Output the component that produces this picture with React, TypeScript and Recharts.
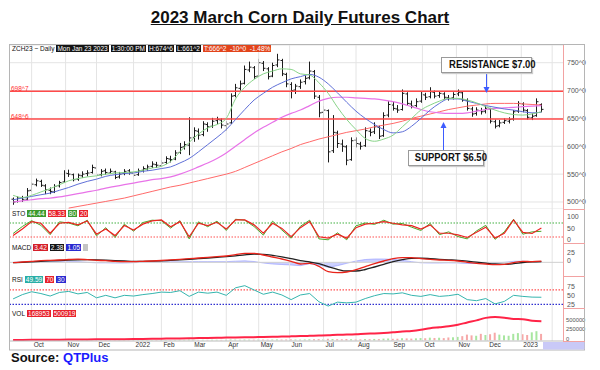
import React from "react";
import { ComposedChart, Bar, Line, Area, XAxis, YAxis, CartesianGrid, ReferenceLine, Cell } from "recharts";

// OHLC bars, one per 3 trading days (day index = 3k + 2, day 0 = mid Sep 2021)
const opens = [
  505, 501, 508, 505, 521, 531, 537, 529, 521, 518,
  529, 536, 551, 549, 541, 547, 551, 553, 561, 549,
  556, 552, 554, 545, 551, 556, 552, 549, 557, 559,
  564, 567, 565, 571, 577, 577, 589, 599, 602, 616,
  627, 621, 639, 636, 646, 647, 637, 642, 691, 704,
  713, 737, 741, 726, 749, 739, 726, 746, 754, 729,
  711, 701, 707, 716, 723, 734, 688, 661, 664, 592,
  624, 604, 599, 576, 611, 604, 601, 627, 626, 634,
  619, 656, 674, 667, 666, 694, 676, 673, 681, 692,
  689, 697, 691, 694, 687, 687, 694, 696, 682, 667,
  659, 664, 663, 667, 644, 637, 643, 645, 649, 663,
  676, 664, 651, 655, 675,
];
const highs = [
  508, 510, 511, 525, 535, 542, 540, 532, 526, 532,
  538, 557, 558, 551, 551, 555, 557, 567, 563, 559,
  560, 560, 556, 554, 559, 559, 555, 560, 564, 567,
  573, 572, 575, 582, 583, 593, 606, 609, 652, 634,
  632, 645, 643, 651, 653, 650, 645, 695, 712, 718,
  745, 752, 744, 757, 753, 742, 750, 766, 757, 732,
  715, 712, 720, 727, 752, 737, 692, 672, 666, 656,
  628, 612, 602, 616, 616, 608, 634, 632, 643, 637,
  661, 681, 680, 674, 702, 697, 682, 686, 698, 696,
  706, 700, 699, 697, 692, 697, 702, 699, 686, 671,
  670, 669, 673, 669, 648, 647, 650, 652, 665, 681,
  679, 667, 659, 686, 677,
];
const lows = [
  495, 499, 500, 503, 518, 528, 527, 514, 514, 516,
  526, 534, 545, 537, 538, 543, 546, 551, 545, 546,
  549, 550, 541, 542, 548, 549, 545, 547, 553, 556,
  561, 561, 563, 568, 571, 575, 586, 594, 584, 608,
  612, 618, 626, 633, 640, 632, 628, 640, 688, 700,
  711, 733, 721, 724, 735, 720, 724, 742, 726, 706,
  686, 694, 703, 711, 720, 685, 652, 650, 571, 588,
  597, 590, 566, 574, 598, 594, 599, 618, 622, 613,
  617, 652, 664, 660, 664, 673, 668, 670, 678, 683,
  686, 686, 687, 684, 682, 684, 690, 680, 664, 653,
  655, 657, 659, 641, 632, 634, 640, 641, 646, 660,
  661, 648, 647, 653, 661,
];
const closes = [
  500, 507, 504, 520, 532, 538, 530, 522, 519, 528,
  535, 552, 550, 540, 548, 550, 552, 562, 548, 555,
  553, 555, 544, 550, 555, 553, 548, 556, 560, 563,
  568, 566, 570, 578, 576, 588, 598, 603, 615, 628,
  620, 640, 635, 645, 648, 638, 640, 690, 705, 712,
  738, 742, 725, 750, 740, 725, 745, 755, 730, 712,
  700, 708, 715, 722, 735, 690, 660, 665, 590, 625,
  605, 600, 575, 610, 605, 600, 628, 625, 635, 618,
  655, 675, 668, 665, 695, 677, 672, 680, 693, 688,
  698, 690, 695, 688, 686, 693, 697, 683, 668, 658,
  665, 662, 668, 645, 636, 642, 646, 648, 662, 677,
  665, 652, 654, 680, 666.25,
];
const volumes = [
  3000, 2500, 4000, 3500, 5000, 4200, 3800, 3000, 4500, 5200, 4800,
  6000, 5500, 4000, 5000, 4500, 6200, 7000, 5500, 4800, 6000, 5200,
  5800, 6500, 5000, 6800, 7200, 6000, 7500, 8000, 7000, 8200, 7600,
  9000, 8500, 10000, 12000, 11000, 20000, 15000, 12000, 14000, 13000, 15000,
  14000, 12000, 15000, 22000, 18000, 16000, 20000, 18000, 17000, 22000, 19000,
  18000, 21000, 24000, 20000, 22000, 26000, 21000, 20000, 23000, 28000, 30000,
  32000, 28000, 40000, 35000, 30000, 28000, 34000, 30000, 27000, 25000, 33000,
  30000, 36000, 32000, 45000, 48000, 40000, 42000, 55000, 50000, 45000, 52000,
  60000, 55000, 70000, 62000, 68000, 58000, 75000, 80000, 90000, 110000, 150000,
  130000, 120000, 170000, 140000, 160000, 200000, 150000, 130000, 120000, 170000, 190000,
  160000, 140000, 210000, 240000, 168953,
];

// indicators, one sample per 6 trading days (day index = 6j + 2)
const maGreen = [
  512, 508, 512, 518, 524, 531, 538, 542, 545, 547,
  550, 552, 553, 554, 557, 561, 564, 573, 590, 607,
  622, 633, 639, 650, 685, 706, 720, 730, 735, 739,
  738, 730, 728, 714, 695, 670, 648, 630, 614, 609,
  613, 620, 635, 650, 665, 674, 681, 686, 686, 683,
  678, 671, 665, 660, 657, 656, 658, 662,
];
const maBlue = [
  504, 507, 510, 513, 516, 521, 526, 532, 537, 541,
  546, 549, 551, 552, 555, 557, 560, 563, 570, 578,
  590, 603, 616, 630, 648, 666, 683, 695, 706, 714,
  721, 725, 729, 724, 712, 696, 679, 663, 650, 639,
  630, 624, 626, 636, 650, 665, 677, 685, 685, 681,
  677, 673, 670, 667, 665, 662, 660, 661,
];
const maMagenta = [
  500, 502, 504, 506, 507, 509, 512, 515, 518, 521,
  525, 528, 531, 534, 537, 540, 542, 545, 550, 556,
  563, 570, 578, 588, 600, 612, 624, 634, 643, 652,
  659, 665, 673, 681, 686, 688, 688, 687, 686, 685,
  683, 680, 676, 671, 666, 662, 660, 659, 659, 660,
  663, 666, 668, 669, 670, 671, 672, 673,
];
const maRed = [
  null, null, null, null, null, null, 489, 492, 495, 498,
  501, 504, 507, 511, 515, 519, 523, 527, 530, 534,
  538, 542, 546, 550, 555, 562, 569, 576, 583, 590,
  596, 603, 608, 613, 617, 621, 625, 628, 631, 635,
  638, 641, 645, 650, 654, 658, 662, 666, 669, 672,
  674, 676, 677, 677, 677, 676, 675, 674,
];
const stoK = [
  35, 65, 90, 70, 30, 85, 80, 68, 92, 25,
  60, 18, 75, 45, 82, 92, 90, 58, 90, 12,
  85, 64, 88, 48, 96, 92, 65, 28, 88, 50,
  15, 66, 92, 12, 8, 38, 8, 68, 80, 74,
  92, 75, 78, 62, 48, 78, 30, 42, 22, 12,
  46, 70, 10, 42, 96, 32, 42, 44.44,
];
const stoD = [
  26, 54, 86, 79, 36, 79, 83, 72, 89, 32,
  54, 26, 69, 50, 75, 89, 93, 64, 86, 21,
  79, 69, 83, 54, 93, 93, 72, 36, 79, 57,
  21, 60, 86, 21, 15, 32, 15, 60, 75, 79,
  86, 79, 72, 69, 54, 72, 36, 36, 29, 18,
  40, 62, 16, 36, 93, 40, 35, 58.33,
];
const macdLine = [
  -1, 1, 3, 5, 6, 7, 8.5, 9.5, 8, 6,
  5, 3, 2, 2, 3, 4, 5.5, 7.5, 9, 11,
  13, 15, 17, 19, 23, 27, 27, 22, 16, 10,
  3, -5, -3, -12, -28, -31, -29, -22, -13, -4,
  4, 11, 14, 14, 11, 9, 7, 6, 4, 0,
  -3, -5, -7, -6, -1, 3, 2, 3.42,
];
const macdSignal = [
  -1, 0, 1.5, 3, 4.5, 5.5, 6.5, 7.5, 8, 7.5,
  6.5, 5, 4, 3, 3, 3.5, 4.5, 6, 7.5, 9,
  11, 13, 15, 17, 19.5, 22.5, 24.5, 24, 21, 16.5,
  11, 5, 1, -4, -13, -21, -26, -26, -21.5, -14,
  -6, 2, 8, 12, 12.5, 11, 9, 7.5, 6, 3.5,
  0.5, -2.5, -5, -6, -4, -0.5, 1.5, 2.38,
];
const macdHist = [
  0, 1, 1.5, 2, 1.5, 1.5, 2, 2, 0, -1.5,
  -1.5, -2, -2, -1, 0, 0.5, 1, 1.5, 1.5, 2,
  2, 2, 2, 2, 3.5, 4.5, 2.5, -2, -5, -6.5,
  -8, -10, -4, -8, -15, -10, -3, 4, 8.5, 10,
  10, 9, 6, 2, -1.5, -2, -2, -1.5, -2, -3.5,
  -3.5, -2.5, -2, 0, 3, 3.5, 0.5, 1.05,
];
const rsi = [
  45, 57, 65, 60, 53, 63, 66, 59, 63, 48,
  55, 48, 55, 53, 57, 60, 64, 63, 68, 52,
  64, 61, 64, 55, 76, 82, 70, 58, 64, 56,
  43, 56, 60, 37, 25, 36, 34, 36, 46, 54,
  60, 59, 62, 55, 52, 57, 52, 54, 58, 43,
  40, 46, 31, 38, 55, 52, 50, 49.59,
];
const openInterest = [
  10000, 11000, 12000, 13000, 15000, 17000, 19000, 21000, 23000, 25000,
  27000, 29000, 31000, 34000, 37000, 40000, 43000, 47000, 51000, 55000,
  59000, 63000, 67000, 71000, 75000, 79000, 83000, 88000, 93000, 98000,
  104000, 113000, 118000, 124000, 131000, 145000, 150000, 158000, 172000, 180000,
  192000, 210000, 232000, 245000, 275000, 320000, 345000, 370000, 410000, 470000,
  525000, 590000, 610000, 595000, 560000, 555000, 515000, 500919,
];

const monthTicks = [14, 36, 56, 80, 98, 118, 140, 161, 181, 203, 224, 247, 267, 289, 309, 331, 351];
const monthLabels = ["Oct", "Nov", "Dec", "2022", "Feb", "Mar", "Apr", "May", "Jun", "Jul", "Aug", "Sep", "Oct", "Nov", "Dec", "2023", "Feb"];
const priceTicks = [500, 550, 600, 650, 700, 750];
const resistance = 698.875;
const support = 648.75;

const bars = closes.map((c, k) => ({
  d: 3 * k + 2, o: opens[k], h: highs[k], l: lows[k], c, hl: [lows[k], highs[k]], v: volumes[k],
}));
const ind = maGreen.map((g, j) => ({
  d: 6 * j + 2, green: g, blue: maBlue[j], magenta: maMagenta[j], red: maRed[j],
  k: stoK[j], dd: stoD[j], macd: macdLine[j], sig: macdSignal[j], hist: macdHist[j],
  rsi: rsi[j], oi: openInterest[j],
}));

const FONT = '"Liberation Sans", Arial, sans-serif';
const X_DOMAIN: [number, number] = [0, 358];
const M = { top: 0, right: 15, left: 10, bottom: 0 };
const GRID = "#e4e4e4";

const OhlcShape = (props: any) => {
  const { x, y, width, height, payload } = props;
  if (x == null || payload == null) return null;
  const cx = Math.round(x + width / 2) + 0.5;
  const top = Math.min(y, y + height);
  const span = Math.abs(height);
  const range = payload.h - payload.l || 1;
  const oy = top + ((payload.h - payload.o) / range) * span;
  const cy = top + ((payload.h - payload.c) / range) * span;
  return (
    <g stroke="#1c1c1c" strokeWidth={1}>
      <line x1={cx} x2={cx} y1={top} y2={top + span} />
      <line x1={cx - 2} x2={cx} y1={oy} y2={oy} />
      <line x1={cx} x2={cx + 2} y1={cy} y2={cy} />
    </g>
  );
};

const makeTick = (fmt: (v: number) => string, dy: number, size: number) => (props: any) => {
  const { x, y, payload } = props;
  return (
    <text x={x} y={y} dy={dy} fontSize={size} fill="#555" fontFamily={FONT} textAnchor="start">
      {fmt(payload.value)}
    </text>
  );
};

const MonthTick = (props: any) => {
  const { x, y, payload } = props;
  const i = monthTicks.indexOf(payload.value);
  return (
    <text x={x + 2} y={y + 6} fontSize={6.5} fill="#333" fontFamily={FONT} textAnchor="start">
      {monthLabels[i]}
    </text>
  );
};

const monthLines = () =>
  monthTicks.map((d) => <ReferenceLine key={"m" + d} x={d} stroke={GRID} ifOverflow="visible" />);

const tag = (bg: string): React.CSSProperties => ({
  background: bg, color: "#fff", padding: "0 1px", marginLeft: 2, height: 7, lineHeight: "7px", whiteSpace: "pre",
});

function TagRow({ top, name, tags }: { top: number; name: string; tags: [string, string][] }) {
  return (
    <div style={{ position: "absolute", left: 12, top, display: "flex", fontSize: 6.5, fontFamily: FONT, lineHeight: "7px" }}>
      <span style={{ color: "#111", whiteSpace: "pre" }}>{name}</span>
      {tags.map(([t, bg], i) => (
        <span key={i} style={{ ...tag(bg), minWidth: t ? undefined : 3 }}>{t}</span>
      ))}
    </div>
  );
}

const boxStyle: React.CSSProperties = {
  position: "absolute", background: "#fff", border: "1px solid #9a9a9a", boxShadow: "1px 1px 1px #ccc",
  fontFamily: FONT, fontWeight: 700, fontSize: 11, lineHeight: "13px", textAlign: "center", whiteSpace: "nowrap", color: "#111",
};

const rightAxis = (domain: [number, number], ticks: number[], fmt: (v: number) => string, dy: number, size = 7, margin = 4) => (
  <YAxis orientation="right" width={22} domain={domain} ticks={ticks} interval={0} allowDataOverflow
    axisLine={false} tickLine={false} tickSize={0} tickMargin={margin} tick={makeTick(fmt, dy, size)} />
);

export default function App() {
  return (
    <div style={{ position: "absolute", left: 0, top: 0, width: 600, height: 370, background: "#fff", fontFamily: FONT }}>
      <div style={{ position: "absolute", top: 8, left: 0, width: 600, textAlign: "center", fontSize: 17, fontWeight: 700, textDecoration: "underline", color: "#111" }}>
        2023 March Corn Daily Futures Chart
      </div>

      {/* price */}
      <div style={{ position: "absolute", left: 0, top: 45 }}>
        <ComposedChart width={600} height={164} data={bars} margin={M}>
          <CartesianGrid vertical={false} stroke={GRID} />
          {monthLines()}
          <XAxis type="number" dataKey="d" domain={X_DOMAIN} hide allowDataOverflow />
          {rightAxis([487.4, 781.8], priceTicks, (v) => `${v}^0`, 2.5)}
          <ReferenceLine y={resistance} stroke="#ff4a4a" strokeWidth={1.5} />
          <ReferenceLine y={support} stroke="#ff4a4a" strokeWidth={1.5} />
          <Line data={ind} dataKey="red" stroke="#ff6a6a" strokeWidth={1} dot={false} type="monotone" isAnimationActive={false} />
          <Line data={ind} dataKey="magenta" stroke="#e873e8" strokeWidth={1.2} dot={false} type="monotone" isAnimationActive={false} />
          <Line data={ind} dataKey="blue" stroke="#6070d8" strokeWidth={1} dot={false} type="monotone" isAnimationActive={false} />
          <Line data={ind} dataKey="green" stroke="#88d488" strokeWidth={1} dot={false} type="monotone" isAnimationActive={false} />
          <Bar dataKey="hl" barSize={2} shape={OhlcShape} isAnimationActive={false} />
        </ComposedChart>
      </div>

      {/* stochastics */}
      <div style={{ position: "absolute", left: 0, top: 209 }}>
        <ComposedChart width={600} height={34} data={ind} margin={M}>
          {monthLines()}
          <XAxis type="number" dataKey="d" domain={X_DOMAIN} hide allowDataOverflow />
          {rightAxis([-5.7, 140], [0, 50, 100], (v) => `${v}`, 0.5)}
          <ReferenceLine y={80} stroke="#40b040" strokeDasharray="1.5 1.5" strokeWidth={1.2} />
          <ReferenceLine y={20} stroke="#ff5050" strokeDasharray="1.5 1.5" strokeWidth={1.2} />
          <Line dataKey="k" stroke="#4aaa2a" strokeWidth={1} dot={false} type="linear" isAnimationActive={false} />
          <Line dataKey="dd" stroke="#ee2222" strokeWidth={1.2} dot={false} type="linear" isAnimationActive={false} />
        </ComposedChart>
      </div>

      {/* MACD */}
      <div style={{ position: "absolute", left: 0, top: 243 }}>
        <ComposedChart width={600} height={33} data={ind} margin={M}>
          {monthLines()}
          <XAxis type="number" dataKey="d" domain={X_DOMAIN} hide allowDataOverflow />
          {rightAxis([-41, 58], [0, 25], (v) => `${v}`, 1)}
          <ReferenceLine y={0} stroke="#cfcfcf" />
          <Area dataKey="hist" baseValue={0} stroke="#8f96ff" strokeWidth={0.6} fill="#aab0ff" fillOpacity={0.6} type="linear" isAnimationActive={false} />
          <Line dataKey="sig" stroke="#222" strokeWidth={1.3} dot={false} type="monotone" isAnimationActive={false} />
          <Line dataKey="macd" stroke="#e8231a" strokeWidth={1.3} dot={false} type="monotone" isAnimationActive={false} />
        </ComposedChart>
      </div>

      {/* RSI */}
      <div style={{ position: "absolute", left: 0, top: 276 }}>
        <ComposedChart width={600} height={32} data={ind} margin={M}>
          {monthLines()}
          <XAxis type="number" dataKey="d" domain={X_DOMAIN} hide allowDataOverflow />
          {rightAxis([19.6, 109], [25, 50, 75], (v) => `${v}`, 0.5)}
          <ReferenceLine y={70} stroke="#ff5050" strokeDasharray="1.5 1.5" strokeWidth={1.2} />
          <ReferenceLine y={30} stroke="#3030d0" strokeDasharray="1.5 1.5" strokeWidth={1.2} />
          <Line dataKey="rsi" stroke="#35b5ae" strokeWidth={1} dot={false} type="linear" isAnimationActive={false} />
        </ComposedChart>
      </div>

      {/* volume / open interest */}
      <div style={{ position: "absolute", left: 0, top: 308 }}>
        <ComposedChart width={600} height={42} data={bars} margin={M}>
          {monthLines()}
          <XAxis type="number" dataKey="d" domain={X_DOMAIN} ticks={monthTicks} interval={0} allowDataOverflow
            height={9} tickLine={false} tickSize={0} tickMargin={0} axisLine={{ stroke: "#bbb" }} tick={<MonthTick />} />
          {rightAxis([-18000, 850000], [0, 250000, 500000], (v) => `${v}`, 0.5, 5.8, 3)}
          <Bar dataKey="v" barSize={2} isAnimationActive={false}>
            {bars.map((b, i) => (
              <Cell key={i} fill={b.c >= b.o ? "#a8e6a0" : "#f6a8a8"} />
            ))}
          </Bar>
          <Line data={ind} dataKey="oi" stroke="#ff2447" strokeWidth={2} dot={false} type="monotone" isAnimationActive={false} />
        </ComposedChart>
      </div>

      {/* frame and annotations */}
      <svg width={600} height={370} style={{ position: "absolute", left: 0, top: 0, pointerEvents: "none" }}>
        <rect x={9.5} y={44.5} width={575} height={305.5} fill="none" stroke="#b5b5b5" />
        <rect x={543} y={342} width={41.5} height={7.5} fill="#c9c9f7" />
        <line x1={563.5} x2={563.5} y1={45} y2={341} stroke="#f2a2a2" />
        {[209, 243, 276, 308, 341].map((y) => (
          <line key={y} x1={563} x2={585} y1={y + 0.5} y2={y + 0.5} stroke="#f2a2a2" />
        ))}
        <line x1={486.5} x2={486.5} y1={73} y2={88} stroke="#3d5cff" />
        <polygon points="483.5,87 489.5,87 486.5,93" fill="#3d5cff" />
        <line x1={443.5} x2={443.5} y1={150} y2={127} stroke="#3d5cff" />
        <polygon points="440.5,128 446.5,128 443.5,122" fill="#3d5cff" />
      </svg>

      <TagRow top={45} name="ZCH23 ~ Daily" tags={[
        ["Mon Jan 23 2023", "#141414"], ["1:30:00 PM", "#141414"], ["H:674^6", "#141414"], ["L:661^2", "#141414"],
        ["T:666^2  -10^0  -1.48%", "#e2441b"],
      ]} />
      <TagRow top={210} name="STO" tags={[["44.44", "#3c9a2e"], ["58.33", "#e8202a"], ["80", "#3c9a2e"], ["20", "#e8202a"]]} />
      <TagRow top={244} name="MACD" tags={[["3.42", "#d4202a"], ["2.38", "#141414"], ["1.05", "#2a2ad0"], ["", "#c4c4c4"]]} />
      <TagRow top={276} name="RSI" tags={[["49.59", "#2aaea6"], ["70", "#e8202a"], ["30", "#2a2ad0"]]} />
      <TagRow top={310} name="VOL" tags={[["168953", "#e8202a"], ["500919", "#e8202a"]]} />

      <div style={{ position: "absolute", left: 11, top: 85, fontSize: 6.5, color: "#ff3030" }}>698^7</div>
      <div style={{ position: "absolute", left: 11, top: 113, fontSize: 6.5, color: "#ff3030" }}>648^6</div>

      <div style={{ ...boxStyle, left: 441, top: 57, width: 89, height: 14 }}>
        <span style={{ display: "inline-block", transform: "scaleX(0.86)" }}>RESISTANCE $7.00</span>
      </div>
      <div style={{ ...boxStyle, left: 408, top: 150, width: 74, height: 14 }}>
        <span style={{ display: "inline-block", transform: "scaleX(0.86)" }}>SUPPORT $6.50</span>
      </div>

      <div style={{ position: "absolute", left: 11, top: 350, fontSize: 13, fontWeight: 700, whiteSpace: "nowrap" }}>
        <span style={{ color: "#111" }}>Source: </span>
        <span style={{ color: "#1b1bff" }}>QTPlus</span>
      </div>
    </div>
  );
}
